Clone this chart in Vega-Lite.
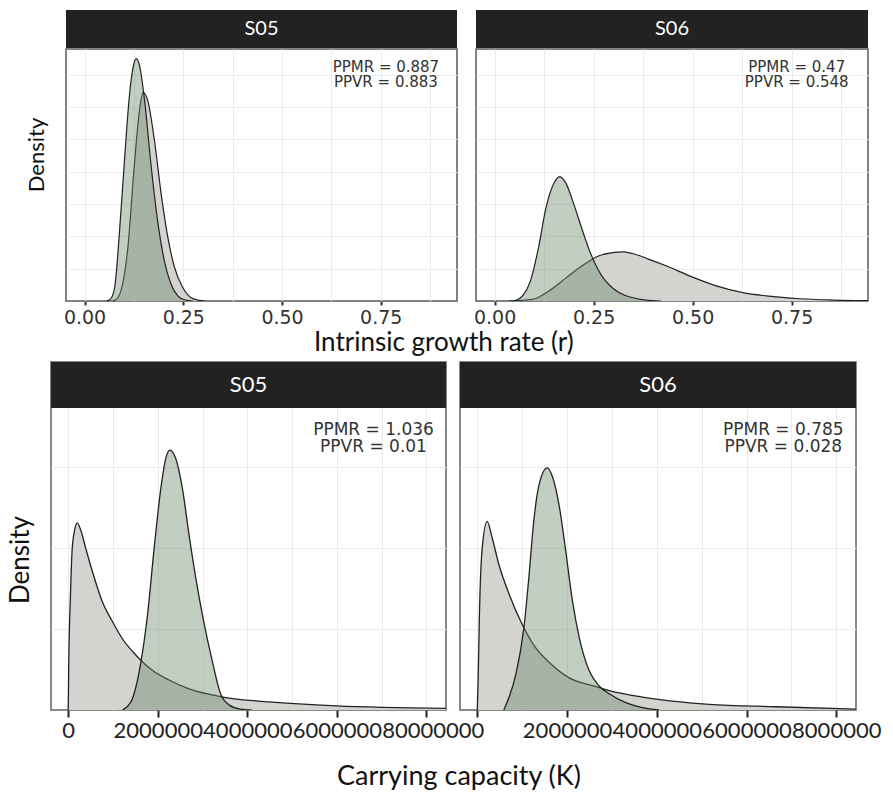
{
  "$schema": "https://vega.github.io/schema/vega-lite/v6.json",
  "background": "white",
  "padding": {"left": 8, "top": 10, "right": 2, "bottom": 0},
  "datasets": {
    "curves": [
      {"p":"r","s":"S05","d":"post","x":0.055,"y":0},{"p":"r","s":"S05","d":"post","x":0.065,"y":0.05},{"p":"r","s":"S05","d":"post","x":0.076,"y":0.41},{"p":"r","s":"S05","d":"post","x":0.088,"y":2.07},{"p":"r","s":"S05","d":"post","x":0.101,"y":4.34},{"p":"r","s":"S05","d":"post","x":0.114,"y":6.41},{"p":"r","s":"S05","d":"post","x":0.124,"y":7.3},{"p":"r","s":"S05","d":"post","x":0.131,"y":7.5},{"p":"r","s":"S05","d":"post","x":0.139,"y":7.3},{"p":"r","s":"S05","d":"post","x":0.152,"y":6.2},{"p":"r","s":"S05","d":"post","x":0.168,"y":4.24},{"p":"r","s":"S05","d":"post","x":0.185,"y":2.48},{"p":"r","s":"S05","d":"post","x":0.202,"y":1.24},{"p":"r","s":"S05","d":"post","x":0.219,"y":0.52},{"p":"r","s":"S05","d":"post","x":0.236,"y":0.16},{"p":"r","s":"S05","d":"post","x":0.255,"y":0.03},{"p":"r","s":"S05","d":"post","x":0.275,"y":0},
      {"p":"r","s":"S05","d":"prior","x":0.07,"y":0},{"p":"r","s":"S05","d":"prior","x":0.08,"y":0.05},{"p":"r","s":"S05","d":"prior","x":0.093,"y":0.35},{"p":"r","s":"S05","d":"prior","x":0.11,"y":1.7},{"p":"r","s":"S05","d":"prior","x":0.126,"y":4.2},{"p":"r","s":"S05","d":"prior","x":0.139,"y":5.9},{"p":"r","s":"S05","d":"prior","x":0.148,"y":6.46},{"p":"r","s":"S05","d":"prior","x":0.16,"y":6.2},{"p":"r","s":"S05","d":"prior","x":0.177,"y":4.96},{"p":"r","s":"S05","d":"prior","x":0.194,"y":3.31},{"p":"r","s":"S05","d":"prior","x":0.211,"y":1.96},{"p":"r","s":"S05","d":"prior","x":0.228,"y":1.03},{"p":"r","s":"S05","d":"prior","x":0.249,"y":0.41},{"p":"r","s":"S05","d":"prior","x":0.27,"y":0.1},{"p":"r","s":"S05","d":"prior","x":0.29,"y":0.02},{"p":"r","s":"S05","d":"prior","x":0.305,"y":0},
      {"p":"r","s":"S06","d":"post","x":0.05,"y":0},{"p":"r","s":"S06","d":"post","x":0.07,"y":0.15},{"p":"r","s":"S06","d":"post","x":0.09,"y":0.6},{"p":"r","s":"S06","d":"post","x":0.11,"y":1.6},{"p":"r","s":"S06","d":"post","x":0.13,"y":2.9},{"p":"r","s":"S06","d":"post","x":0.15,"y":3.65},{"p":"r","s":"S06","d":"post","x":0.164,"y":3.85},{"p":"r","s":"S06","d":"post","x":0.18,"y":3.65},{"p":"r","s":"S06","d":"post","x":0.2,"y":3.0},{"p":"r","s":"S06","d":"post","x":0.22,"y":2.25},{"p":"r","s":"S06","d":"post","x":0.24,"y":1.55},{"p":"r","s":"S06","d":"post","x":0.26,"y":1.0},{"p":"r","s":"S06","d":"post","x":0.28,"y":0.62},{"p":"r","s":"S06","d":"post","x":0.3,"y":0.38},{"p":"r","s":"S06","d":"post","x":0.33,"y":0.17},{"p":"r","s":"S06","d":"post","x":0.36,"y":0.07},{"p":"r","s":"S06","d":"post","x":0.4,"y":0.01},{"p":"r","s":"S06","d":"post","x":0.42,"y":0},
      {"p":"r","s":"S06","d":"prior","x":0.036,"y":0},{"p":"r","s":"S06","d":"prior","x":0.095,"y":0.05},{"p":"r","s":"S06","d":"prior","x":0.137,"y":0.31},{"p":"r","s":"S06","d":"prior","x":0.179,"y":0.7},{"p":"r","s":"S06","d":"prior","x":0.221,"y":1.09},{"p":"r","s":"S06","d":"prior","x":0.264,"y":1.4},{"p":"r","s":"S06","d":"prior","x":0.298,"y":1.5},{"p":"r","s":"S06","d":"prior","x":0.323,"y":1.52},{"p":"r","s":"S06","d":"prior","x":0.348,"y":1.47},{"p":"r","s":"S06","d":"prior","x":0.39,"y":1.29},{"p":"r","s":"S06","d":"prior","x":0.433,"y":1.09},{"p":"r","s":"S06","d":"prior","x":0.5,"y":0.74},{"p":"r","s":"S06","d":"prior","x":0.56,"y":0.47},{"p":"r","s":"S06","d":"prior","x":0.627,"y":0.26},{"p":"r","s":"S06","d":"prior","x":0.686,"y":0.16},{"p":"r","s":"S06","d":"prior","x":0.771,"y":0.07},{"p":"r","s":"S06","d":"prior","x":0.856,"y":0.03},{"p":"r","s":"S06","d":"prior","x":0.943,"y":0.01},
      {"p":"K","s":"S05","d":"prior","x":0,"y":0},{"p":"K","s":"S05","d":"prior","x":10000,"y":0.5},{"p":"K","s":"S05","d":"prior","x":50000,"y":1.42},{"p":"K","s":"S05","d":"prior","x":90000,"y":2.0},{"p":"K","s":"S05","d":"prior","x":150000,"y":2.24},{"p":"K","s":"S05","d":"prior","x":200000,"y":2.31},{"p":"K","s":"S05","d":"prior","x":280000,"y":2.22},{"p":"K","s":"S05","d":"prior","x":390000,"y":2.0},{"p":"K","s":"S05","d":"prior","x":540000,"y":1.71},{"p":"K","s":"S05","d":"prior","x":760000,"y":1.34},{"p":"K","s":"S05","d":"prior","x":990000,"y":1.09},{"p":"K","s":"S05","d":"prior","x":1210000,"y":0.88},{"p":"K","s":"S05","d":"prior","x":1510000,"y":0.68},{"p":"K","s":"S05","d":"prior","x":1880000,"y":0.49},{"p":"K","s":"S05","d":"prior","x":2250000,"y":0.37},{"p":"K","s":"S05","d":"prior","x":2700000,"y":0.26},{"p":"K","s":"S05","d":"prior","x":3450000,"y":0.16},{"p":"K","s":"S05","d":"prior","x":4490000,"y":0.1},{"p":"K","s":"S05","d":"prior","x":5990000,"y":0.05},{"p":"K","s":"S05","d":"prior","x":8440000,"y":0.02},
      {"p":"K","s":"S05","d":"post","x":1210000,"y":0},{"p":"K","s":"S05","d":"post","x":1400000,"y":0.1},{"p":"K","s":"S05","d":"post","x":1620000,"y":0.58},{"p":"K","s":"S05","d":"post","x":1770000,"y":1.17},{"p":"K","s":"S05","d":"post","x":1920000,"y":2.0},{"p":"K","s":"S05","d":"post","x":2070000,"y":2.74},{"p":"K","s":"S05","d":"post","x":2180000,"y":3.11},{"p":"K","s":"S05","d":"post","x":2270000,"y":3.21},{"p":"K","s":"S05","d":"post","x":2400000,"y":3.11},{"p":"K","s":"S05","d":"post","x":2550000,"y":2.74},{"p":"K","s":"S05","d":"post","x":2700000,"y":2.16},{"p":"K","s":"S05","d":"post","x":2850000,"y":1.63},{"p":"K","s":"S05","d":"post","x":3000000,"y":1.17},{"p":"K","s":"S05","d":"post","x":3220000,"y":0.6},{"p":"K","s":"S05","d":"post","x":3410000,"y":0.19},{"p":"K","s":"S05","d":"post","x":3600000,"y":0.06},{"p":"K","s":"S05","d":"post","x":3850000,"y":0.01},{"p":"K","s":"S05","d":"post","x":4100000,"y":0},
      {"p":"K","s":"S06","d":"prior","x":0,"y":0},{"p":"K","s":"S06","d":"prior","x":20000,"y":0.4},{"p":"K","s":"S06","d":"prior","x":50000,"y":1.23},{"p":"K","s":"S06","d":"prior","x":110000,"y":2.0},{"p":"K","s":"S06","d":"prior","x":220000,"y":2.33},{"p":"K","s":"S06","d":"prior","x":330000,"y":2.13},{"p":"K","s":"S06","d":"prior","x":480000,"y":1.8},{"p":"K","s":"S06","d":"prior","x":710000,"y":1.43},{"p":"K","s":"S06","d":"prior","x":1000000,"y":1.06},{"p":"K","s":"S06","d":"prior","x":1300000,"y":0.77},{"p":"K","s":"S06","d":"prior","x":1600000,"y":0.59},{"p":"K","s":"S06","d":"prior","x":2040000,"y":0.4},{"p":"K","s":"S06","d":"prior","x":2570000,"y":0.3},{"p":"K","s":"S06","d":"prior","x":2940000,"y":0.24},{"p":"K","s":"S06","d":"prior","x":3680000,"y":0.16},{"p":"K","s":"S06","d":"prior","x":5170000,"y":0.07},{"p":"K","s":"S06","d":"prior","x":6650000,"y":0.04},{"p":"K","s":"S06","d":"prior","x":8440000,"y":0.01},
      {"p":"K","s":"S06","d":"post","x":590000,"y":0},{"p":"K","s":"S06","d":"post","x":710000,"y":0.16},{"p":"K","s":"S06","d":"post","x":860000,"y":0.44},{"p":"K","s":"S06","d":"post","x":1040000,"y":1.02},{"p":"K","s":"S06","d":"post","x":1150000,"y":1.64},{"p":"K","s":"S06","d":"post","x":1260000,"y":2.34},{"p":"K","s":"S06","d":"post","x":1380000,"y":2.79},{"p":"K","s":"S06","d":"post","x":1560000,"y":2.99},{"p":"K","s":"S06","d":"post","x":1670000,"y":2.89},{"p":"K","s":"S06","d":"post","x":1820000,"y":2.54},{"p":"K","s":"S06","d":"post","x":1970000,"y":1.97},{"p":"K","s":"S06","d":"post","x":2120000,"y":1.35},{"p":"K","s":"S06","d":"post","x":2270000,"y":0.9},{"p":"K","s":"S06","d":"post","x":2490000,"y":0.49},{"p":"K","s":"S06","d":"post","x":2710000,"y":0.3},{"p":"K","s":"S06","d":"post","x":2940000,"y":0.2},{"p":"K","s":"S06","d":"post","x":3310000,"y":0.09},{"p":"K","s":"S06","d":"post","x":3680000,"y":0.03},{"p":"K","s":"S06","d":"post","x":4050000,"y":0}
    ],
    "strips": [{"site":"S05"},{"site":"S06"}],
    "ytitles": [{"p":"r","t":"Density"},{"p":"K","t":"Density"}],
    "stats": [
      {"p":"r","s":"S05","ppmr":"PPMR = 0.887","ppvr":"PPVR = 0.883"},
      {"p":"r","s":"S06","ppmr":"PPMR = 0.47","ppvr":"PPVR = 0.548"},
      {"p":"K","s":"S05","ppmr":"PPMR = 1.036","ppvr":"PPVR = 0.01"},
      {"p":"K","s":"S06","ppmr":"PPMR = 0.785","ppvr":"PPVR = 0.028"}
    ]
  },
  "config": {
    "view": {"stroke": "#5a5a5a", "strokeWidth": 1.5},
    "axis": {"gridColor": "#ebebeb", "gridWidth": 1, "labelOverlap": false, "labelFlush": false}
  },
  "spacing": 5,
  "vconcat": [
    {
      "spacing": -3,
      "title": {"text": "Intrinsic growth rate (r)", "orient": "bottom", "anchor": "middle", "frame": "bounds", "dx": 5, "font": "Lato", "fontSize": 26, "fontWeight": "normal", "color": "#111111", "offset": 2},
      "hconcat": [
        {"width": 56, "height": 290, "view": {"stroke": null},
         "data": {"name": "ytitles"}, "transform": [{"filter": "datum.p === 'r'"}],
         "mark": {"type": "text", "angle": 270, "font": "Lato", "fontSize": 22, "color": "#111111", "align": "center", "baseline": "middle"},
         "encoding": {"text": {"field": "t"}}},
        {
          "spacing": 14,
          "hconcat": [
            {
              "spacing": 0,
              "vconcat": [
                {"width": 391, "height": 38, "view": {"fill": "#222222", "stroke": null},
                 "data": {"name": "strips"}, "transform": [{"filter": "datum.site === 'S05'"}],
                 "mark": {"type": "text", "color": "white", "font": "Lato", "fontSize": 20},
                 "encoding": {"text": {"field": "site"}}},
                {"width": 391, "height": 252,
                 "layer": [
                   {"data": {"name": "curves"}, "transform": [{"filter": "datum.p === 'r' && datum.s === 'S05' && datum.d === 'prior'"}],
                    "mark": {"type": "area", "fill": "#d3d3cf", "fillOpacity": 1, "interpolate": "monotone", "clip": true, "line": {"color": "#222222", "strokeWidth": 1.2, "clip": true}},
                    "encoding": {
                      "x": {"field": "x", "type": "quantitative", "scale": {"domain": [-0.047, 0.943], "nice": false, "zero": false},
                            "axis": {"title": null, "values": [0,0.125,0.25,0.375,0.5,0.625,0.75,0.875],
                                     "labelExpr": "datum.value * 8 % 2 === 0 ? format(datum.value, '.2f') : ''",
                                     "tickOpacity": {"condition": {"test": "datum.value * 8 % 2 === 0", "value": 1}, "value": 0},
                                     "tickColor": "#333333", "tickSize": 4, "tickWidth": 2, "domain": false,
                                     "labelFont": "DejaVu Sans", "labelFontSize": 19, "labelColor": "#333333", "labelPadding": 3}},
                      "y": {"field": "y", "type": "quantitative", "scale": {"domain": [0, 7.8], "nice": false},
                            "axis": {"title": null, "labels": false, "ticks": false, "domain": false, "values": [1,2,3,4,5,6,7]}}
                    }},
                   {"data": {"name": "curves"}, "transform": [{"filter": "datum.p === 'r' && datum.s === 'S05' && datum.d === 'post'"}],
                    "mark": {"type": "area", "fill": "#6c8a6c", "fillOpacity": 0.42, "interpolate": "monotone", "clip": true, "line": {"color": "#222222", "strokeWidth": 1.2, "clip": true}},
                    "encoding": {"x": {"field": "x", "type": "quantitative"}, "y": {"field": "y", "type": "quantitative"}}},
                   {"data": {"name": "stats"}, "transform": [{"filter": "datum.p === 'r' && datum.s === 'S05'"}],
                    "mark": {"type": "text", "font": "DejaVu Sans", "fontSize": 15, "align": "center", "baseline": "top", "color": "#333333"},
                    "encoding": {"text": {"field": "ppmr", "type": "nominal"}, "x": {"datum": 0.763}, "y": {"datum": 7.45}}},
                   {"data": {"name": "stats"}, "transform": [{"filter": "datum.p === 'r' && datum.s === 'S05'"}],
                    "mark": {"type": "text", "font": "DejaVu Sans", "fontSize": 15, "align": "center", "baseline": "top", "color": "#333333", "dy": 14.5},
                    "encoding": {"text": {"field": "ppvr", "type": "nominal"}, "x": {"datum": 0.763}, "y": {"datum": 7.45}}}
                 ]}
              ]
            },
            {
              "spacing": 0,
              "vconcat": [
                {"width": 392, "height": 38, "view": {"fill": "#222222", "stroke": null},
                 "data": {"name": "strips"}, "transform": [{"filter": "datum.site === 'S06'"}],
                 "mark": {"type": "text", "color": "white", "font": "Lato", "fontSize": 20},
                 "encoding": {"text": {"field": "site"}}},
                {"width": 392, "height": 252,
                 "layer": [
                   {"data": {"name": "curves"}, "transform": [{"filter": "datum.p === 'r' && datum.s === 'S06' && datum.d === 'prior'"}],
                    "mark": {"type": "area", "fill": "#d3d3cf", "fillOpacity": 1, "interpolate": "monotone", "clip": true, "line": {"color": "#222222", "strokeWidth": 1.2, "clip": true}},
                    "encoding": {
                      "x": {"field": "x", "type": "quantitative", "scale": {"domain": [-0.047, 0.943], "nice": false, "zero": false},
                            "axis": {"title": null, "values": [0,0.125,0.25,0.375,0.5,0.625,0.75,0.875],
                                     "labelExpr": "datum.value * 8 % 2 === 0 ? format(datum.value, '.2f') : ''",
                                     "tickOpacity": {"condition": {"test": "datum.value * 8 % 2 === 0", "value": 1}, "value": 0},
                                     "tickColor": "#333333", "tickSize": 4, "tickWidth": 2, "domain": false,
                                     "labelFont": "DejaVu Sans", "labelFontSize": 19, "labelColor": "#333333", "labelPadding": 3}},
                      "y": {"field": "y", "type": "quantitative", "scale": {"domain": [0, 7.8], "nice": false},
                            "axis": {"title": null, "labels": false, "ticks": false, "domain": false, "values": [1,2,3,4,5,6,7]}}
                    }},
                   {"data": {"name": "curves"}, "transform": [{"filter": "datum.p === 'r' && datum.s === 'S06' && datum.d === 'post'"}],
                    "mark": {"type": "area", "fill": "#6c8a6c", "fillOpacity": 0.42, "interpolate": "monotone", "clip": true, "line": {"color": "#222222", "strokeWidth": 1.2, "clip": true}},
                    "encoding": {"x": {"field": "x", "type": "quantitative"}, "y": {"field": "y", "type": "quantitative"}}},
                   {"data": {"name": "stats"}, "transform": [{"filter": "datum.p === 'r' && datum.s === 'S06'"}],
                    "mark": {"type": "text", "font": "DejaVu Sans", "fontSize": 15, "align": "center", "baseline": "top", "color": "#333333"},
                    "encoding": {"text": {"field": "ppmr", "type": "nominal"}, "x": {"datum": 0.763}, "y": {"datum": 7.45}}},
                   {"data": {"name": "stats"}, "transform": [{"filter": "datum.p === 'r' && datum.s === 'S06'"}],
                    "mark": {"type": "text", "font": "DejaVu Sans", "fontSize": 15, "align": "center", "baseline": "top", "color": "#333333", "dy": 14.5},
                    "encoding": {"text": {"field": "ppvr", "type": "nominal"}, "x": {"datum": 0.763}, "y": {"datum": 7.45}}}
                 ]}
              ]
            }
          ]
        }
      ]
    },
    {
      "spacing": 16,
      "title": {"text": "Carrying capacity (K)", "orient": "bottom", "anchor": "middle", "frame": "bounds", "dx": 14, "font": "Lato", "fontSize": 27, "fontWeight": "normal", "color": "#111111", "offset": 6},
      "hconcat": [
        {"width": 24, "height": 396, "view": {"stroke": null},
         "data": {"name": "ytitles"}, "transform": [{"filter": "datum.p === 'K'"}],
         "mark": {"type": "text", "angle": 270, "font": "Lato", "fontSize": 26, "color": "#111111", "align": "center", "baseline": "middle"},
         "encoding": {"text": {"field": "t"}}},
        {
          "spacing": 14,
          "bounds": "flush",
          "hconcat": [
            {"width": 395, "height": 348, "view": {"stroke": "#888888", "strokeWidth": 2},
             "layer": [
               {"data": {"name": "curves"}, "transform": [{"filter": "datum.p === 'K' && datum.s === 'S05' && datum.d === 'prior'"}],
                "mark": {"type": "area", "fill": "#d3d3cf", "fillOpacity": 1, "interpolate": "monotone", "clip": true, "line": {"color": "#222222", "strokeWidth": 1.3, "clip": true}},
                "encoding": {
                  "x": {"field": "x", "type": "quantitative", "scale": {"domain": [-385000, 8440000], "nice": false, "zero": false},
                        "axis": {"title": null, "values": [0,1000000,2000000,3000000,4000000,5000000,6000000,7000000,8000000],
                                 "labelExpr": "datum.value % 2000000 === 0 ? format(datum.value, 'd') : ''",
                                 "tickOpacity": {"condition": {"test": "datum.value % 2000000 === 0", "value": 1}, "value": 0},
                                 "tickColor": "#222222", "tickSize": 7, "tickWidth": 2, "domain": false,
                                 "labelFont": "Lato", "labelFontSize": 22, "labelColor": "#222222", "labelPadding": 3}},
                  "y": {"field": "y", "type": "quantitative", "scale": {"domain": [0, 4.298], "nice": false},
                        "axis": {"title": null, "labels": false, "domain": false, "ticks": false, "values": [1,2,3]}}
                }},
               {"data": {"name": "curves"}, "transform": [{"filter": "datum.p === 'K' && datum.s === 'S05' && datum.d === 'post'"}],
                "mark": {"type": "area", "fill": "#6c8a6c", "fillOpacity": 0.42, "interpolate": "monotone", "clip": true, "line": {"color": "#222222", "strokeWidth": 1.3, "clip": true}},
                "encoding": {"x": {"field": "x", "type": "quantitative"}, "y": {"field": "y", "type": "quantitative"}}},
               {"data": {"name": "strips"}, "transform": [{"filter": "datum.site === 'S05'"}],
                "mark": {"type": "rect", "color": "#222222"},
                "encoding": {"x": {"datum": -385000}, "x2": {"datum": 8440000}, "y": {"datum": 3.73}, "y2": {"datum": 4.298}}},
               {"data": {"name": "strips"}, "transform": [{"filter": "datum.site === 'S05'"}],
                "mark": {"type": "text", "color": "white", "font": "Lato", "fontSize": 22, "align": "center", "baseline": "middle"},
                "encoding": {"text": {"field": "site"}, "x": {"datum": 4027500}, "y": {"datum": 4.014}}},
               {"data": {"name": "stats"}, "transform": [{"filter": "datum.p === 'K' && datum.s === 'S05'"}],
                "mark": {"type": "text", "font": "DejaVu Sans", "fontSize": 17, "align": "center", "baseline": "top", "color": "#333333"},
                "encoding": {"text": {"field": "ppmr", "type": "nominal"}, "x": {"datum": 6820000}, "y": {"datum": 3.56}}},
               {"data": {"name": "stats"}, "transform": [{"filter": "datum.p === 'K' && datum.s === 'S05'"}],
                "mark": {"type": "text", "font": "DejaVu Sans", "fontSize": 17, "align": "center", "baseline": "top", "color": "#333333", "dy": 17},
                "encoding": {"text": {"field": "ppvr", "type": "nominal"}, "x": {"datum": 6820000}, "y": {"datum": 3.56}}}
             ]},
            {"width": 396, "height": 348, "view": {"stroke": "#888888", "strokeWidth": 2},
             "layer": [
               {"data": {"name": "curves"}, "transform": [{"filter": "datum.p === 'K' && datum.s === 'S06' && datum.d === 'prior'"}],
                "mark": {"type": "area", "fill": "#d3d3cf", "fillOpacity": 1, "interpolate": "monotone", "clip": true, "line": {"color": "#222222", "strokeWidth": 1.3, "clip": true}},
                "encoding": {
                  "x": {"field": "x", "type": "quantitative", "scale": {"domain": [-385000, 8440000], "nice": false, "zero": false},
                        "axis": {"title": null, "values": [0,1000000,2000000,3000000,4000000,5000000,6000000,7000000,8000000],
                                 "labelExpr": "datum.value % 2000000 === 0 ? format(datum.value, 'd') : ''",
                                 "tickOpacity": {"condition": {"test": "datum.value % 2000000 === 0", "value": 1}, "value": 0},
                                 "tickColor": "#222222", "tickSize": 7, "tickWidth": 2, "domain": false,
                                 "labelFont": "Lato", "labelFontSize": 22, "labelColor": "#222222", "labelPadding": 3}},
                  "y": {"field": "y", "type": "quantitative", "scale": {"domain": [0, 4.298], "nice": false},
                        "axis": {"title": null, "labels": false, "domain": false, "ticks": false, "values": [1,2,3]}}
                }},
               {"data": {"name": "curves"}, "transform": [{"filter": "datum.p === 'K' && datum.s === 'S06' && datum.d === 'post'"}],
                "mark": {"type": "area", "fill": "#6c8a6c", "fillOpacity": 0.42, "interpolate": "monotone", "clip": true, "line": {"color": "#222222", "strokeWidth": 1.3, "clip": true}},
                "encoding": {"x": {"field": "x", "type": "quantitative"}, "y": {"field": "y", "type": "quantitative"}}},
               {"data": {"name": "strips"}, "transform": [{"filter": "datum.site === 'S06'"}],
                "mark": {"type": "rect", "color": "#222222"},
                "encoding": {"x": {"datum": -385000}, "x2": {"datum": 8440000}, "y": {"datum": 3.73}, "y2": {"datum": 4.298}}},
               {"data": {"name": "strips"}, "transform": [{"filter": "datum.site === 'S06'"}],
                "mark": {"type": "text", "color": "white", "font": "Lato", "fontSize": 22, "align": "center", "baseline": "middle"},
                "encoding": {"text": {"field": "site"}, "x": {"datum": 4027500}, "y": {"datum": 4.014}}},
               {"data": {"name": "stats"}, "transform": [{"filter": "datum.p === 'K' && datum.s === 'S06'"}],
                "mark": {"type": "text", "font": "DejaVu Sans", "fontSize": 17, "align": "center", "baseline": "top", "color": "#333333"},
                "encoding": {"text": {"field": "ppmr", "type": "nominal"}, "x": {"datum": 6820000}, "y": {"datum": 3.56}}},
               {"data": {"name": "stats"}, "transform": [{"filter": "datum.p === 'K' && datum.s === 'S06'"}],
                "mark": {"type": "text", "font": "DejaVu Sans", "fontSize": 17, "align": "center", "baseline": "top", "color": "#333333", "dy": 17},
                "encoding": {"text": {"field": "ppvr", "type": "nominal"}, "x": {"datum": 6820000}, "y": {"datum": 3.56}}}
             ]}
          ]
        }
      ]
    }
  ]
}
